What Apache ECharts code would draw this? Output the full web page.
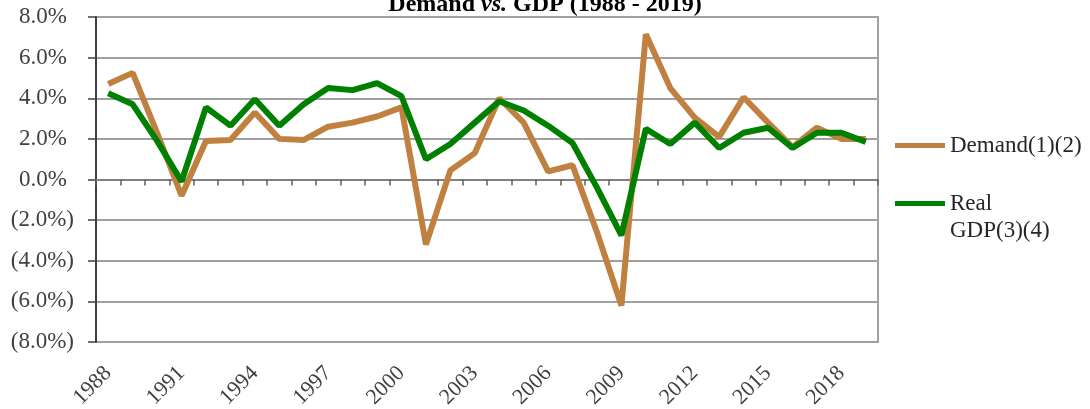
<!DOCTYPE html>
<html>
<head>
<meta charset="utf-8">
<script src="https://cdn.jsdelivr.net/npm/echarts@6/dist/echarts.min.js"></script>
<style>
  html, body { margin: 0; padding: 0; background: #fff; }
  #chart { width: 1090px; height: 409px; }
</style>
</head>
<body>
<div id="chart"></div>
<script>
// years on the x axis
var years = [
  "1988", "1989", "1990", "1991", "1992", "1993", "1994", "1995",
  "1996", "1997", "1998", "1999", "2000", "2001", "2002", "2003",
  "2004", "2005", "2006", "2007", "2008", "2009", "2010", "2011",
  "2012", "2013", "2014", "2015", "2016", "2017", "2018", "2019"
];
// growth rates in percent
var demand = [
  4.7, 5.25, 2.3, -0.8, 1.9, 1.95, 3.3, 2.0,
  1.95, 2.6, 2.8, 3.1, 3.55, -3.2, 0.45, 1.3,
  4.0, 2.8, 0.4, 0.7, -2.6, -6.2, 7.15, 4.5,
  3.05, 2.1, 4.05, 2.8, 1.6, 2.55, 2.0, 2.0
];
var realGdp = [
  4.25, 3.7, 1.9, -0.1, 3.55, 2.65, 3.95, 2.65,
  3.7, 4.5, 4.4, 4.75, 4.1, 1.0, 1.75, 2.8,
  3.85, 3.4, 2.65, 1.8, -0.4, -2.75, 2.5, 1.75,
  2.8, 1.55, 2.3, 2.55, 1.55, 2.3, 2.3, 1.85
];

var serif = "Liberation Serif";
var chart = echarts.init(document.getElementById("chart"));

function pct(v) {
  // Excel style: negatives in brackets, positives keep room for the ")"
  var s = Math.abs(v).toFixed(1) + "%";
  return v < 0 ? "(" + s + ")" : "{n|" + s + "}{gap|}";
}

var option = {
  animation: false,
  title: {
    text: "Demand {i|vs.} GDP (1988 - 2019)",
    left: "center",
    top: -12,
    textStyle: {
      fontFamily: serif,
      fontSize: 24,
      fontWeight: "bold",
      color: "#000",
      rich: {
        i: { fontFamily: serif, fontSize: 24, fontWeight: "bold", fontStyle: "italic", color: "#000" },
      },
    },
  },
  grid: {
    left: 96,
    right: 212,
    top: 17,
    bottom: 67,
    containLabel: false,
    outerBoundsMode: "none",
    show: true,
    borderColor: "#a0a0a0",
    borderWidth: 2,
  },
  legend: [
    {
      data: ["Demand(1)(2)"],
      left: 890,
      top: 127,
      icon: "rect",
      itemWidth: 50,
      itemHeight: 5,
      textStyle: { fontFamily: serif, fontSize: 23, lineHeight: 27, color: "#262626" },
    },
    {
      data: ["Real GDP(3)(4)"],
      left: 890,
      top: 158,
      icon: "rect",
      itemWidth: 50,
      itemHeight: 5,
      formatter: function () {
        // blank first line keeps "Real" level with the line sample
        return " \nReal\nGDP(3)(4)";
      },
      textStyle: { fontFamily: serif, fontSize: 23, lineHeight: 27, color: "#262626" },
    },
  ],
  xAxis: [
    {
      // the line at zero with its ticks
      type: "category",
      data: years,
      position: "bottom",
      axisLine: { onZero: true, lineStyle: { color: "#808080", width: 2 } },
      axisTick: { show: true, interval: 0, length: 6, lineStyle: { color: "#606060", width: 1.5 } },
      axisLabel: { show: false },
      splitLine: { show: false },
    },
    {
      // year labels at the bottom
      type: "category",
      data: years,
      position: "bottom",
      axisLine: { show: false, onZero: false },
      axisTick: { show: false },
      axisLabel: {
        interval: 2,
        rotate: 45,
        margin: 28,
        fontFamily: serif,
        fontSize: 22,
        color: "#404040",
      },
    },
  ],
  yAxis: {
    type: "value",
    min: -8,
    max: 8,
    interval: 2,
    axisLine: { show: true, lineStyle: { color: "#404040", width: 2 } },
    axisTick: { show: true, length: 8, lineStyle: { color: "#404040", width: 1.5 } },
    axisLabel: {
      margin: 22,
      fontFamily: serif,
      fontSize: 23,
      color: "#404040",
      formatter: pct,
      rich: {
        n: { fontFamily: serif, fontSize: 23, color: "#404040" },
        gap: { width: 7 },
      },
    },
    splitLine: { lineStyle: { color: "#a0a0a0", width: 2 } },
  },
  series: [
    {
      name: "Demand(1)(2)",
      type: "line",
      data: demand,
      symbol: "none",
      lineStyle: { width: 6, color: "#c0803f" },
      itemStyle: { color: "#c0803f" },
    },
    {
      name: "Real GDP(3)(4)",
      type: "line",
      data: realGdp,
      symbol: "none",
      lineStyle: { width: 6, color: "#008000" },
      itemStyle: { color: "#008000" },
    },
  ],
};

chart.setOption(option);
</script>
</body>
</html>
